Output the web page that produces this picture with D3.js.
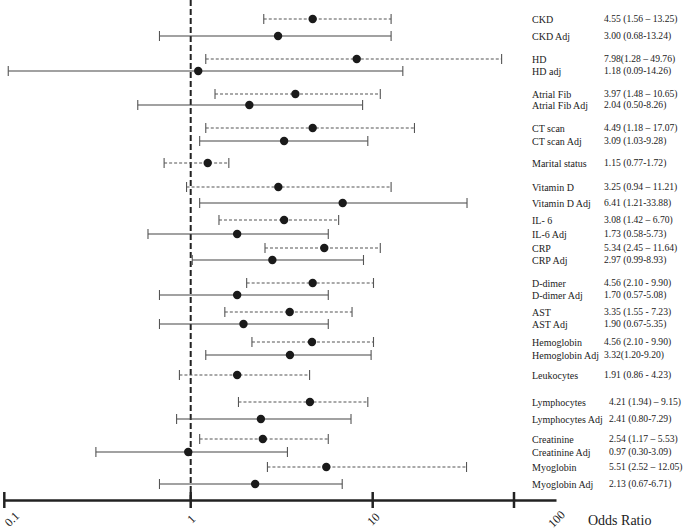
<!DOCTYPE html>
<html><head><meta charset="utf-8">
<script src="https://cdn.jsdelivr.net/npm/d3@7"></script>
<style>
html,body{margin:0;padding:0;background:#fff;}
svg{display:block;}
text{font-family:"Liberation Serif","Times New Roman",serif;fill:#222;}
</style></head><body>
<svg id="chart" width="685" height="529"></svg>
<script>
// ---- data ----
const labels = ["CKD","CKD Adj","HD","HD adj","Atrial Fib","Atrial Fib Adj","CT scan","CT scan Adj","Marital status","Vitamin D","Vitamin D Adj","IL- 6","IL-6 Adj","CRP","CRP Adj","D-dimer","D-dimer Adj","AST","AST Adj","Hemoglobin","Hemoglobin Adj","Leukocytes","Lymphocytes","Lymphocytes Adj","Creatinine","Creatinine Adj","Myoglobin","Myoglobin Adj"];
const ciText = ["4.55 (1.56 – 13.25)","3.00 (0.68-13.24)","7.98(1.28 – 49.76)","1.18 (0.09-14.26)","3.97 (1.48 – 10.65)","2.04 (0.50-8.26)","4.49 (1.18 – 17.07)","3.09 (1.03-9.28)","1.15 (0.77-1.72)","3.25 (0.94 – 11.21)","6.41 (1.21-33.88)","3.08 (1.42 – 6.70)","1.73 (0.58-5.73)","5.34 (2.45 – 11.64)","2.97 (0.99-8.93)","4.56 (2.10 - 9.90)","1.70 (0.57-5.08)","3.35 (1.55 - 7.23)","1.90 (0.67-5.35)","4.56 (2.10 - 9.90)","3.32(1.20-9.20)","1.91 (0.86 - 4.23)","4.21 (1.94) – 9.15)","2.41 (0.80-7.29)","2.54 (1.17 – 5.53)","0.97 (0.30-3.09)","5.51 (2.52 – 12.05)","2.13 (0.67-6.71)"];
const adjusted = [false,true,false,true,false,true,false,true,false,false,true,false,true,false,true,false,true,false,true,false,true,false,false,true,false,true,false,true];
// values as drawn in the picture
const oddsRatio = [4.68,3.02,8.17,1.10,3.76,2.10,4.68,3.26,1.24,3.03,6.84,3.26,1.80,5.42,2.81,4.68,1.80,3.50,1.95,4.64,3.51,1.80,4.52,2.43,2.49,0.97,5.56,2.26];
const lowerCI   = [2.52,0.68,1.21,0.105,1.36,0.52,1.21,1.12,0.72,0.95,1.12,1.43,0.59,2.56,1.02,2.03,0.68,1.54,0.68,2.17,1.21,0.87,1.83,0.84,1.12,0.31,2.64,0.68];
const upperCI   = [12.6,12.6,50.5,14.6,11.0,8.8,16.9,9.4,1.62,12.6,32.7,6.5,5.7,11.0,8.9,10.1,5.7,7.7,5.7,10.1,9.8,4.5,9.4,7.6,5.7,3.4,32.5,6.8];
const tickLabels = [0.1, 1, 10, 100];
const tickMarks  = [0.1, 1, 10, 59];
const axisTitle = "Odds Ratio";

// ---- layout ----
const rowStep = [0,17,23,12,23,11,23,13,22,24,16,17,14,14,12,23,12,17,12,18,13,20,27,17,20,13,15,17];
const slots = d3.cumsum(rowStep);
const y = d3.scaleLinear().domain([0, slots[slots.length-1]]).range([19, 484]);
const x = d3.scaleLog().domain([0.1, 1, 10, 100]).range([4.3, 190.7, 372.7, 556]);
const axisY = 500;

const svg = d3.select("#chart");
const rows = labels.map((l,i)=>({label:l, ci:ciText[i], adj:adjusted[i], or:oddsRatio[i], lo:lowerCI[i], hi:upperCI[i], y:y(slots[i]), i}));

// reference line at OR = 1
svg.append("line")
  .attr("x1", x(1)).attr("x2", x(1)).attr("y1", 0).attr("y2", axisY)
  .attr("stroke", "#222").attr("stroke-width", 2).attr("stroke-dasharray", "6,3");

const g = svg.append("g");
const row = g.selectAll("g.row").data(rows).join("g").attr("class","row");
row.append("line")
  .attr("x1", d=>x(d.lo)).attr("x2", d=>x(d.hi)).attr("y1", d=>d.y).attr("y2", d=>d.y)
  .attr("stroke", d=>d.adj ? "#444" : "#555").attr("stroke-width", 1.1)
  .attr("stroke-dasharray", d=>d.adj ? null : "3,2");
row.append("line")
  .attr("x1", d=>x(d.lo)).attr("x2", d=>x(d.lo)).attr("y1", d=>d.y-5).attr("y2", d=>d.y+5)
  .attr("stroke", "#555").attr("stroke-width", 1.1);
row.append("line")
  .attr("x1", d=>x(d.hi)).attr("x2", d=>x(d.hi)).attr("y1", d=>d.y-5).attr("y2", d=>d.y+5)
  .attr("stroke", "#555").attr("stroke-width", 1.1);
row.append("circle")
  .attr("cx", d=>x(d.or)).attr("cy", d=>d.y).attr("r", 4.2).attr("fill", "#1a1a1a");

// right-hand labels
row.append("text")
  .attr("x", 532).attr("y", d=>d.y).attr("dy","0.35em")
  .attr("font-size", 10).text(d=>d.label);
row.append("text")
  .attr("x", d=>d.i >= 22 ? 609 : 604).attr("y", d=>d.y).attr("dy","0.35em")
  .attr("font-size", 9.6).text(d=>d.ci);

// x axis
const axis = d3.axisBottom(x).tickValues(tickLabels).tickSize(0).tickFormat(d=>String(d));
const ax = svg.append("g").attr("transform", `translate(0,${axisY})`).call(axis);
ax.select(".domain").attr("stroke","#222").attr("stroke-width",2.5);
ax.selectAll(".tick text")
  .attr("y", 0).attr("dy","0.35em").attr("text-anchor","middle")
  .attr("transform", d => d === 0.1 ? "translate(7,19) rotate(-45)" : "translate(0,19) rotate(-45)")
  .attr("font-size", 12).attr("font-family", '"Liberation Serif","Times New Roman",serif').attr("fill","#222");
ax.selectAll("line.tm").data(tickMarks).join("line").attr("class","tm")
  .attr("x1", d=>x(d)).attr("x2", d=>x(d)).attr("y1", -8).attr("y2", 8)
  .attr("stroke","#222").attr("stroke-width",2.5);

svg.append("text").attr("x", 588).attr("y", 520).attr("dy","0.35em")
  .attr("font-size", 14).text(axisTitle);
</script>
</body></html>
